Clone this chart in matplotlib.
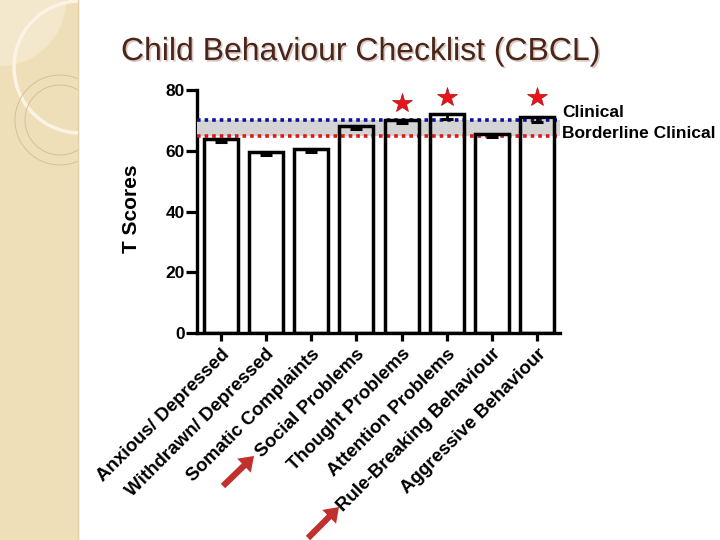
import numpy as np
import matplotlib.pyplot as plt
import matplotlib.patheffects as pe
from matplotlib.patches import Rectangle, Circle, Wedge

plt.rcParams['font.family'] = ['Liberation Sans', 'DejaVu Sans']

# subescalas do CBCL
categorias = ['Anxious/ Depressed', 'Withdrawn/ Depressed', 'Somatic Complaints',
              'Social Problems', 'Thought Problems', 'Attention Problems',
              'Rule-Breaking Behaviour', 'Aggressive Behaviour']
medias = [64, 59.5, 60.5, 68, 70, 72, 65.5, 71]
erros = [1.0, 0.8, 1.0, 1.0, 0.8, 1.6, 0.9, 1.4]
# estrelas (significativo)
idx_estrela = [4, 5, 7]
y_estrela = [75.8, 77.8, 77.8]
limiar_clinico = 70
limiar_borderline = 65
yticks = [0, 20, 40, 60, 80]

fig = plt.figure(figsize=(7.2, 5.4), dpi=100)
px = fig.dpi_scale_trans  # polegadas; 1 px = 0.01

# faixa bege da esquerda (decoração do slide)
faixa = Rectangle((0, 0), 0.78, 5.4, transform=px, color='#efdfb9', zorder=0)
fig.patches.append(faixa)
clip = Rectangle((0, 0), 0.78, 5.4, transform=px, visible=False)
fig.patches.append(clip)
deco = [
    Wedge((0, 5.4), 0.66, 270, 360, transform=px, color='#f4e8cc', lw=0, zorder=1),
    Circle((0.80, 5.4 - 0.67), 0.66, transform=px, fill=False, ec='#fbf4e4', lw=2.5, zorder=2),
    Circle((0.60, 5.4 - 1.20), 0.45, transform=px, fill=False, ec='#d6c095', lw=0.7, zorder=2),
    Circle((0.60, 5.4 - 1.20), 0.35, transform=px, fill=False, ec='#d6c095', lw=0.7, zorder=2),
]
for c in deco:
    c.set_clip_path(clip)
    fig.patches.append(c)
fig.lines.append(plt.Line2D([0.78, 0.78], [0, 5.4], transform=px, color='#e4d2a8', lw=1))

fig.text(121/720, 1 - 52/540, 'Child Behaviour Checklist (CBCL)', fontsize=23,
         color='#4a2518', ha='left', va='center',
         path_effects=[pe.withSimplePatchShadow(offset=(1.2, -1.2), shadow_rgbFace='#d9c9c4', alpha=1)])

ax = fig.add_axes([197/720, 1 - 333/540, 363/720, 243/540])
x = np.arange(len(categorias))

# fundo branco das barras, faixa cinza por cima, contorno preto por cima de tudo
ax.bar(x, medias, width=0.75, color='white', linewidth=0, zorder=2)
ax.axhspan(limiar_borderline, limiar_clinico, color='#d4d4d4', lw=0, zorder=3)
ax.axhline(limiar_clinico, color='#10109a', lw=2.6, ls=(0, (1, 1.1)), zorder=4)
ax.axhline(limiar_borderline, color='#dd1a1a', lw=2.6, ls=(0, (1, 1.1)), zorder=4)
ax.bar(x, medias, width=0.75, fill=False, edgecolor='black', linewidth=2.5, zorder=5)
ax.errorbar(x, medias, yerr=[erros, np.zeros(len(erros))], fmt='none', ecolor='black',
            elinewidth=2, capsize=4.5, capthick=2.2, zorder=6)

ax.plot(x[idx_estrela], y_estrela, ls='none', marker='*', ms=15, color='#e8141b',
        mec='#b01010', mew=0.5, zorder=6, clip_on=False)

ax.text(1.005, limiar_clinico + 2.5, 'Clinical', transform=ax.get_yaxis_transform(),
        fontsize=12.5, fontweight='bold', ha='left', va='center', clip_on=False)
ax.text(1.005, limiar_borderline + 0.8, 'Borderline Clinical', transform=ax.get_yaxis_transform(),
        fontsize=12.5, fontweight='bold', ha='left', va='center', clip_on=False)

ax.set_xlim(-0.52, 7.5)
ax.set_ylim(0, 80)
ax.set_yticks(yticks)
ax.set_xticks(x)
ax.set_xticklabels(categorias, rotation=45, ha='right', va='top', rotation_mode='anchor',
                   fontsize=13.5, fontweight='bold')
for lab in ax.get_yticklabels():
    lab.set_fontweight('bold')
    lab.set_fontsize(12.5)
ax.tick_params(axis='y', length=8, width=2.3, pad=1)
ax.tick_params(axis='x', length=6, width=2.3, pad=3)
for s in ['top', 'right']:
    ax.spines[s].set_visible(False)
for s in ['left', 'bottom']:
    ax.spines[s].set_linewidth(2.4)

ax.set_ylabel('T Scores', fontsize=15, fontweight='bold')
ax.yaxis.set_label_coords(-0.154, 0.51)

# setas vermelhas apontando para as subescalas
for x0, y0, x1, y1 in [(223, 486, 254, 456), (308, 538, 339, 507)]:
    ax.annotate('', xy=(x1/720, 1 - y1/540), xytext=(x0/720, 1 - y0/540),
                xycoords='figure fraction', textcoords='figure fraction',
                arrowprops=dict(arrowstyle='simple,head_length=1.0,head_width=1.4,tail_width=0.45',
                                color='#c0302e', lw=0, shrinkA=0, shrinkB=0))

fig.savefig('out.png', dpi=100)
